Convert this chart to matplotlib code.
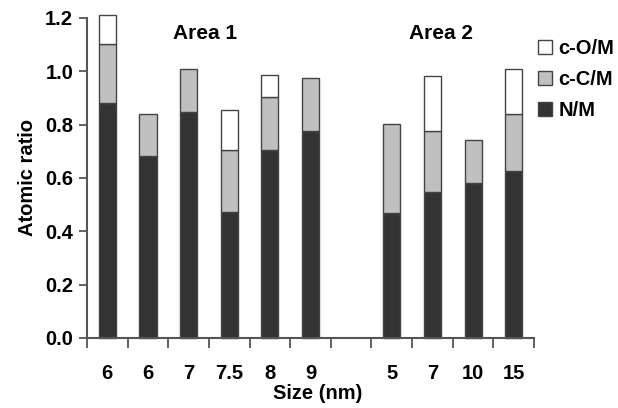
import numpy as np
import matplotlib.pyplot as plt

plt.rcParams["font.family"] = ["Liberation Sans", "DejaVu Sans"]
plt.rcParams["font.weight"] = "bold"

# data (slot 6 is the gap between the two areas)
sizes = ["6", "6", "7", "7.5", "8", "9", "5", "7", "10", "15"]
slots = [0, 1, 2, 3, 4, 5, 7, 8, 9, 10]
n_m = [0.882, 0.682, 0.846, 0.474, 0.704, 0.776, 0.470, 0.549, 0.583, 0.626]
c_c = [0.220, 0.158, 0.163, 0.232, 0.200, 0.200, 0.331, 0.227, 0.161, 0.214]
c_o = [0.109, 0.000, 0.000, 0.150, 0.084, 0.000, 0.000, 0.205, 0.000, 0.169]

fig = plt.figure(figsize=(6.18, 4.08), dpi=100)
ax = fig.add_axes([0.1408, 0.1716, 0.7233, 0.7843])

edge = "#444444"
fs = 14.5
n_m = np.array(n_m)
c_c = np.array(c_c)
c_o = np.array(c_o)
w = 0.42
b1 = ax.bar(slots, n_m, w, color="#333333", edgecolor=edge, lw=1, label="N/M", clip_on=False)
b2 = ax.bar(slots, c_c, w, bottom=n_m, color="#c0c0c0", edgecolor=edge, lw=1, label="c-C/M", clip_on=False)
o_slots = [s for s, v in zip(slots, c_o) if v > 0]
o_bot = [a + b for a, b, v in zip(n_m, c_c, c_o) if v > 0]
o_val = [v for v in c_o if v > 0]
b3 = ax.bar(o_slots, o_val, w, bottom=o_bot, color="white", edgecolor=edge, lw=1, label="c-O/M", clip_on=False)

ax.set_xlim(-0.5, 10.5)
ax.set_ylim(0, 1.2)
ax.set_yticks(np.arange(0, 1.21, 0.2))
ax.set_yticklabels([f"{v:.1f}" for v in np.arange(0, 1.21, 0.2)], fontsize=fs, fontweight="bold")

# boundary ticks unlabeled, category labels centered under bars
ax.set_xticks(np.arange(-0.5, 10.6, 1))
ax.set_xticklabels([])
ax.set_xticks(slots, minor=True)
ax.set_xticklabels(sizes, minor=True, fontsize=fs, fontweight="bold")
ax.tick_params(axis="x", which="major", length=7, width=1.3, color="#555555")
ax.tick_params(axis="x", which="minor", length=0, pad=19)
ax.tick_params(axis="y", length=6, width=1.3, color="#555555", pad=4)

for s in ["top", "right"]:
    ax.spines[s].set_visible(False)
for s in ["left", "bottom"]:
    ax.spines[s].set_color("#555555")
    ax.spines[s].set_linewidth(1.5)

ax.set_ylabel("Atomic ratio", fontsize=fs, fontweight="bold", labelpad=6)
ax.set_xlabel("Size (nm)", fontsize=fs, fontweight="bold", labelpad=0)
ax.xaxis.set_label_coords(0.516, -0.145)

ax.text(2.4, 1.14, "Area 1", ha="center", va="center", fontsize=15, fontweight="bold")
ax.text(8.2, 1.14, "Area 2", ha="center", va="center", fontsize=15, fontweight="bold")

ax.legend([b3, b2, b1], ["c-O/M", "c-C/M", "N/M"], loc="upper left",
          bbox_to_anchor=(0.99, 0.96), frameon=False, fontsize=fs,
          handlelength=0.7, handleheight=0.7, handletextpad=0.35,
          labelspacing=0.6, borderaxespad=0)

fig.savefig("out.png", dpi=100)
